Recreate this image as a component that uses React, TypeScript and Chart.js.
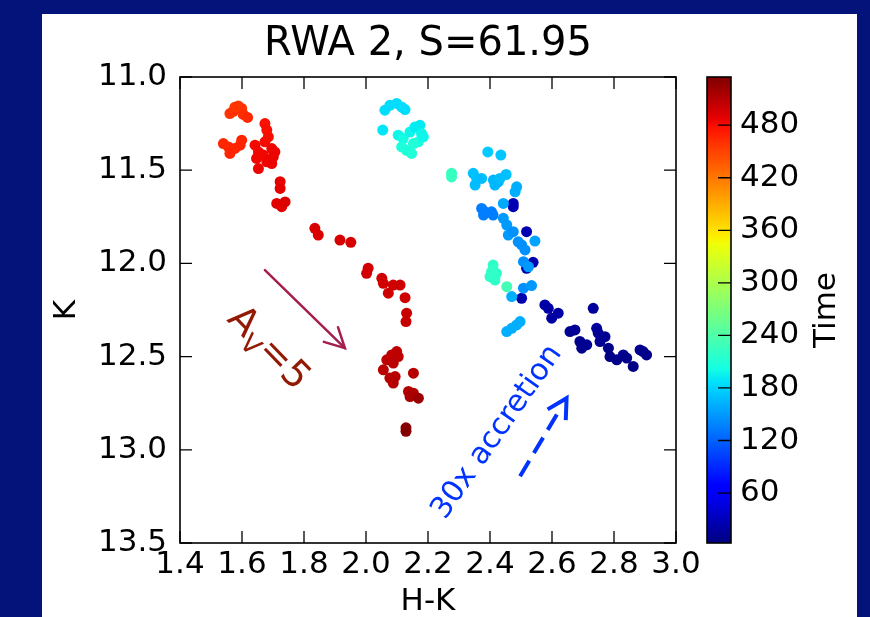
import React, { useEffect, useRef } from "react";
import { Chart, registerables } from "chart.js";

Chart.register(...registerables);

// ---------------- data ----------------
// H-K colour (x), K magnitude (y), time (colour) for each epoch
const hk = [
  // dark blue (early)
  2.577, 2.588, 2.599, 2.62, 2.733, 2.658, 2.674, 2.69, 2.696, 2.712, 2.744, 2.749, 2.755, 2.771, 2.782, 2.787, 2.809, 2.83, 2.841, 2.862, 2.884, 2.894, 2.905,
  2.475, 2.475, 2.518, 2.539, 2.518, 2.502,
  // mid / light blue
  2.393, 2.435, 2.346, 2.357, 2.352, 2.373, 2.411, 2.416, 2.427, 2.432, 2.452, 2.486, 2.481, 2.443,
  2.373, 2.384, 2.405, 2.41, 2.379,
  2.443, 2.454, 2.459, 2.475, 2.491, 2.502, 2.513, 2.545, 2.508, 2.524, 2.47, 2.508, 2.534,
  2.454, 2.47, 2.486, 2.497,
  // cyan
  2.061, 2.077, 2.099, 2.115, 2.126, 2.054, 2.104, 2.12, 2.115, 2.131, 2.147, 2.142, 2.158, 2.174, 2.179, 2.169, 2.153, 2.185,
  // green-cyan
  2.276, 2.276, 2.41, 2.405, 2.4, 2.416, 2.421, 2.454,
  // orange-red
  1.561, 1.572, 1.588, 1.599, 1.604, 1.618, 1.577,
  1.54, 1.556, 1.561, 1.577, 1.594, 1.599,
  // red
  1.674, 1.68, 1.685, 1.674, 1.642, 1.653, 1.647, 1.653, 1.669, 1.68, 1.696, 1.701, 1.696, 1.706,
  1.723, 1.723, 1.712, 1.728, 1.739,
  1.835, 1.846, 1.916, 1.951,
  2.007, 2.002, 2.051, 2.056, 2.072, 2.088, 2.11, 2.126, 2.131, 2.129,
  2.067, 2.083, 2.099, 2.104, 2.088, 2.056, 2.077, 2.094, 2.088, 2.153, 2.137, 2.153, 2.142, 2.169,
  2.129, 2.129,
];

const kmag = [
  12.223, 12.241, 12.294, 12.267, 12.241, 12.366, 12.357, 12.419, 12.455, 12.437, 12.348, 12.374, 12.419, 12.393, 12.455, 12.5, 12.517, 12.491, 12.508, 12.553, 12.464, 12.473, 12.491,
  11.678, 11.696, 11.83, 11.994, 12.026, 12.187,
  11.402, 11.419, 11.517, 11.544, 11.58, 11.544, 11.553, 11.58, 11.562, 11.544, 11.523, 11.589, 11.616, 11.678,
  11.705, 11.723, 11.723, 11.741, 11.741,
  11.758, 11.794, 11.848, 11.83, 11.884, 11.901, 11.928, 11.88, 11.991, 12.018, 12.178, 12.133, 12.119,
  12.366, 12.348, 12.33, 12.312,
  11.178, 11.152, 11.142, 11.161, 11.175, 11.285, 11.312, 11.33, 11.375, 11.393, 11.41, 11.295, 11.268, 11.259, 11.303, 11.348, 11.357, 11.321,
  11.517, 11.536, 12.009, 12.044, 12.071, 12.089, 12.053, 12.125,
  11.196, 11.184, 11.155, 11.169, 11.201, 11.217, 11.162,
  11.357, 11.375, 11.41, 11.383, 11.366, 11.339,
  11.25, 11.285, 11.321, 11.348, 11.366, 11.402, 11.437, 11.491, 11.419, 11.455, 11.464, 11.428, 11.384, 11.402,
  11.562, 11.598, 11.678, 11.696, 11.67,
  11.812, 11.848, 11.875, 11.887,
  12.026, 12.053, 12.08, 12.107, 12.16, 12.116, 12.116, 12.184, 12.267, 12.312,
  12.517, 12.491, 12.473, 12.5, 12.535, 12.571, 12.615, 12.607, 12.642, 12.589, 12.687, 12.696, 12.714, 12.723,
  12.882, 12.901,
];

const time = [
  22, 20, 18, 20, 15, 12, 14, 10, 8, 12, 16, 14, 12, 12, 8, 6, 8, 10, 8, 5, 12, 10, 8,
  28, 26, 26, 24, 24, 25,
  175, 172, 170, 170, 168, 168, 165, 165, 165, 168, 170, 160, 160, 158,
  135, 135, 135, 135, 135,
  150, 150, 150, 145, 145, 145, 145, 155, 145, 150, 160, 145, 150,
  160, 160, 160, 160,
  185, 185, 185, 185, 185, 190, 198, 202, 208, 208, 210, 198, 192, 192, 198, 205, 210, 198,
  225, 225, 220, 220, 220, 220, 220, 232,
  458, 460, 455, 458, 462, 465, 457,
  465, 465, 466, 466, 467, 467,
  478, 479, 480, 481, 482, 483, 484, 485, 483, 484, 485, 485, 484, 485,
  488, 489, 490, 491, 492,
  494, 494, 495, 495,
  497, 497, 498, 498, 499, 499, 500, 500, 501, 502,
  506, 506, 507, 507, 508, 508, 509, 509, 510, 510, 512, 514, 516, 522,
  530, 533,
];

const xTicks = [1.4, 1.6, 1.8, 2.0, 2.2, 2.4, 2.6, 2.8, 3.0];
const yTicks = [11.0, 11.5, 12.0, 12.5, 13.0, 13.5];
const cbTicks = [60, 120, 180, 240, 300, 360, 420, 480];
const timeMin = 3;
const timeMax = 535;

const titleText = "RWA 2, S=61.95";
const xLabel = "H-K";
const yLabel = "K";
const cbLabel = "Time";

// ---------------- styles ----------------
const FONT = "'DejaVu Sans', 'Liberation Sans', sans-serif";
const NAVY = "#03137a";
const TICK_SIZE = 31;

// matplotlib "jet" colormap
const JET: Record<string, number[][]> = {
  r: [[0, 0], [0.35, 0], [0.66, 1], [0.89, 1], [1, 0.5]],
  g: [[0, 0], [0.125, 0], [0.375, 1], [0.64, 1], [0.91, 0], [1, 0]],
  b: [[0, 0.5], [0.11, 1], [0.34, 1], [0.65, 0], [1, 0]],
};
function seg(s: number[][], t: number) {
  for (let i = 1; i < s.length; i++) {
    if (t <= s[i][0]) {
      const [x0, y0] = s[i - 1];
      const [x1, y1] = s[i];
      return y0 + ((t - x0) / (x1 - x0)) * (y1 - y0);
    }
  }
  return s[s.length - 1][1];
}
function jet(t: number) {
  const u = Math.min(1, Math.max(0, t));
  const r = Math.round(seg(JET.r, u) * 255);
  const g = Math.round(seg(JET.g, u) * 255);
  const b = Math.round(seg(JET.b, u) * 255);
  return `rgb(${r},${g},${b})`;
}
const norm = (v: number) => (v - timeMin) / (timeMax - timeMin);

// annotations (data coordinates)
const extArrow = { from: [1.674, 12.036], to: [1.932, 12.455] };
const extText = { at: [1.69, 12.448], angle: 46 };
const accArrow = { from: [2.497, 13.142], to: [2.647, 12.723] };
const accText = { at: [2.423, 12.906], angle: -55, text: "30x accretion" };

function head(ctx: CanvasRenderingContext2D, tx: number, ty: number, ang: number, len: number, spread: number) {
  ctx.beginPath();
  ctx.moveTo(tx - len * Math.cos(ang - spread), ty - len * Math.sin(ang - spread));
  ctx.lineTo(tx, ty);
  ctx.lineTo(tx - len * Math.cos(ang + spread), ty - len * Math.sin(ang + spread));
  ctx.stroke();
}

const decor = {
  id: "decor",
  beforeDraw(chart: any) {
    const { ctx, width, height } = chart;
    ctx.save();
    ctx.fillStyle = NAVY;
    ctx.fillRect(0, 0, width, height);
    ctx.fillStyle = "#ffffff";
    ctx.fillRect(42, 14, 815, height - 14);
    ctx.restore();
  },
  afterDraw(chart: any) {
    const { ctx, chartArea: a, scales } = chart;
    const xs = scales.x;
    const ys = scales.y;
    const cb = scales.cb;
    const P = (v: number[]) => [xs.getPixelForValue(v[0]), ys.getPixelForValue(v[1])];
    ctx.save();

    // extinction arrow
    {
      const [x0, y0] = P(extArrow.from);
      const [x1, y1] = P(extArrow.to);
      ctx.strokeStyle = "#a51e50";
      ctx.lineWidth = 2.5;
      ctx.lineCap = "round";
      ctx.beginPath();
      ctx.moveTo(x0, y0);
      ctx.lineTo(x1, y1);
      ctx.stroke();
      head(ctx, x1, y1, Math.atan2(y1 - y0, x1 - x0), 22, 0.48);
    }
    // A_V = 5
    {
      const [cx, cy] = P(extText.at);
      ctx.save();
      ctx.translate(cx, cy);
      ctx.rotate((extText.angle * Math.PI) / 180);
      ctx.fillStyle = "#921a05";
      ctx.textBaseline = "alphabetic";
      ctx.textAlign = "left";
      const big = `38px ${FONT}`;
      const small = `26px ${FONT}`;
      ctx.font = big;
      const wA = ctx.measureText("A").width;
      const wEq = ctx.measureText("=5").width;
      ctx.font = small;
      const wV = ctx.measureText("V").width;
      let x0 = -(wA + wV + wEq) / 2;
      ctx.font = big;
      ctx.fillText("A", x0, 13);
      x0 += wA;
      ctx.font = small;
      ctx.fillText("V", x0, 21);
      x0 += wV;
      ctx.font = big;
      ctx.fillText("=5", x0, 13);
      ctx.restore();
    }
    // accretion arrow (dashed)
    {
      const [x0, y0] = P(accArrow.from);
      const [x1, y1] = P(accArrow.to);
      const ang = Math.atan2(y1 - y0, x1 - x0);
      const L = Math.hypot(x1 - x0, y1 - y0) - 19;
      ctx.strokeStyle = "#0033ff";
      ctx.lineWidth = 4;
      ctx.lineCap = "butt";
      ctx.setLineDash([18, 9]);
      ctx.beginPath();
      ctx.moveTo(x0, y0);
      ctx.lineTo(x0 + L * Math.cos(ang), y0 + L * Math.sin(ang));
      ctx.stroke();
      ctx.setLineDash([]);
      ctx.lineJoin = "miter";
      head(ctx, x1, y1, ang, 22, 0.5);
    }
    // 30x accretion
    {
      const [cx, cy] = P(accText.at);
      ctx.save();
      ctx.translate(cx, cy);
      ctx.rotate((accText.angle * Math.PI) / 180);
      ctx.fillStyle = "#0033ff";
      ctx.font = `30px ${FONT}`;
      ctx.textAlign = "center";
      ctx.textBaseline = "middle";
      ctx.fillText(accText.text, 0, 0);
      ctx.restore();
    }

    // axes frame + inward ticks on all four sides
    ctx.strokeStyle = "#000";
    ctx.lineWidth = 1.6;
    ctx.lineCap = "butt";
    ctx.strokeRect(a.left, a.top, a.right - a.left, a.bottom - a.top);
    ctx.lineWidth = 1.3;
    ctx.beginPath();
    for (const v of xTicks) {
      const p = xs.getPixelForValue(v);
      ctx.moveTo(p, a.bottom);
      ctx.lineTo(p, a.bottom - 12);
      ctx.moveTo(p, a.top);
      ctx.lineTo(p, a.top + 12);
    }
    for (const v of yTicks) {
      const p = ys.getPixelForValue(v);
      ctx.moveTo(a.left, p);
      ctx.lineTo(a.left + 12, p);
      ctx.moveTo(a.right, p);
      ctx.lineTo(a.right - 12, p);
    }
    ctx.stroke();

    // colour bar
    const cbL = 707;
    const cbR = 731;
    const top = cb.getPixelForValue(timeMax);
    const bot = cb.getPixelForValue(timeMin);
    const grad = ctx.createLinearGradient(0, bot, 0, top);
    for (let i = 0; i <= 64; i++) grad.addColorStop(i / 64, jet(i / 64));
    ctx.fillStyle = grad;
    ctx.fillRect(cbL, top, cbR - cbL, bot - top);
    ctx.lineWidth = 1.6;
    ctx.strokeRect(cbL, top, cbR - cbL, bot - top);
    ctx.lineWidth = 1.3;
    ctx.beginPath();
    for (const v of cbTicks) {
      const p = cb.getPixelForValue(v);
      ctx.moveTo(cbR, p);
      ctx.lineTo(cbR - 13, p);
    }
    ctx.stroke();
    ctx.fillStyle = "#000";
    ctx.font = `${TICK_SIZE}px ${FONT}`;
    ctx.textAlign = "left";
    ctx.textBaseline = "middle";
    for (const v of cbTicks) {
      ctx.fillText(String(v), 740, cb.getPixelForValue(v));
    }
    ctx.save();
    ctx.translate(827, (top + bot) / 2);
    ctx.rotate(-Math.PI / 2);
    ctx.textAlign = "center";
    ctx.textBaseline = "middle";
    ctx.fillText(cbLabel, 0, 0);
    ctx.restore();

    ctx.restore();
  },
};

export default function App() {
  const ref = useRef<HTMLCanvasElement>(null);
  useEffect(() => {
    document.body.style.margin = "0";
    const points = hk.map((x, i) => ({ x, y: kmag[i] }));
    const colors = time.map((t) => jet(norm(t)));
    const tickFont = { family: FONT, size: TICK_SIZE };
    const chart = new Chart(ref.current as HTMLCanvasElement, {
      type: "scatter",
      data: {
        datasets: [
          {
            data: points,
            pointBackgroundColor: colors,
            pointBorderWidth: 0,
            pointRadius: 5.5,
            pointHoverRadius: 5.5,
          },
        ],
      },
      options: {
        animation: false,
        responsive: false,
        devicePixelRatio: 1,
        events: [],
        layout: { padding: { left: 51, right: 194, top: 0, bottom: 0 } },
        plugins: {
          legend: { display: false },
          tooltip: { enabled: false },
          title: {
            display: true,
            fullSize: false,
            text: titleText,
            color: "#000",
            font: { family: FONT, size: 40, weight: "normal" },
            padding: { top: 21, bottom: 8 },
          },
        },
        scales: {
          x: {
            type: "linear",
            position: "bottom",
            min: 1.4,
            max: 3.0,
            grid: { display: false, drawTicks: false },
            border: { display: false },
            ticks: {
              font: tickFont,
              color: "#000",
              padding: 3,
              autoSkip: false,
              maxRotation: 0,
              callback: (v: any) => Number(v).toFixed(1),
            },
            afterBuildTicks: (s: any) => {
              s.ticks = xTicks.map((value) => ({ value }));
            },
            afterFit: (s: any) => {
              s.height = 74;
            },
            title: {
              display: true,
              text: xLabel,
              color: "#000",
              font: { family: FONT, size: TICK_SIZE, lineHeight: 1 },
              padding: 0,
            },
          },
          y: {
            type: "linear",
            position: "left",
            reverse: true,
            min: 11,
            max: 13.5,
            grid: { display: false, drawTicks: false },
            border: { display: false },
            ticks: {
              font: tickFont,
              color: "#000",
              padding: 13,
              autoSkip: false,
              callback: (v: any) => Number(v).toFixed(1),
            },
            afterBuildTicks: (s: any) => {
              s.ticks = yTicks.map((value) => ({ value }));
            },
            afterFit: (s: any) => {
              s.width = 129;
            },
            title: {
              display: true,
              text: yLabel,
              color: "#000",
              font: { family: FONT, size: TICK_SIZE, lineHeight: 1 },
              padding: 0,
            },
          },
          cb: {
            type: "linear",
            axis: "y",
            position: "right",
            display: false,
            min: timeMin,
            max: timeMax,
          },
        },
      } as any,
      plugins: [decor],
    });
    return () => chart.destroy();
  }, []);
  return (
    <div style={{ position: "fixed", left: 0, top: 0, width: 870, height: 617, background: NAVY }}>
      <canvas ref={ref} width={870} height={617} style={{ display: "block", width: 870, height: 617 }} />
    </div>
  );
}
